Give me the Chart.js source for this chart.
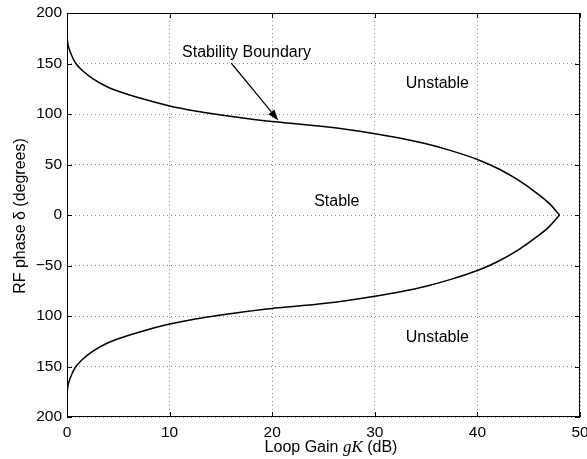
<!DOCTYPE html>
<html>
<head>
<meta charset="utf-8">
<script src="https://cdn.jsdelivr.net/npm/chart.js@4/dist/chart.umd.min.js"></script>
<style>
    html, body { margin: 0; padding: 0; background: #fff; }
</style>
</head>
<body>
<canvas id="graficoEstabilidade" width="587" height="459"></canvas>
<script>
// ============================================================
// Stability boundary – RF phase vs loop gain
// ============================================================

// valores
const gainDb = [0, 0.05, 0.2, 0.5, 0.8, 1.5, 2.5, 4, 5, 7, 10, 12.5, 15, 17.5, 20, 22.5, 25, 27.5, 30, 32.5, 35, 37.5, 40, 42, 44, 46, 47, 48];
const phaseUpper = [180, 172, 165, 157, 151, 143, 135, 126.5, 122.5, 116, 108, 103, 99, 95.5, 92.5, 90.2, 87.6, 84.4, 80.5, 76, 70.5, 63.5, 55, 46, 34.5, 20, 11.5, 0];
const phaseLower = [-180, -172, -165, -157, -151, -143, -135, -126.5, -122.5, -116, -108, -103, -99, -95.5, -92.5, -90.2, -87.6, -84.4, -80.5, -76, -70.5, -63.5, -55, -46, -34.5, -20, -11.5, 0];

const xTicks = [0, 10, 20, 30, 40, 50];
const yTicks = [200, 150, 100, 50, 0, -50, -100, -150, -200];
const yTickLabels = ["200", "150", "100", "50", "0", "\u221250", "100", "150", "200"];

// textos dentro do gráfico (coordenadas de dados)
const regionLabels = [
    { text: "Unstable", x: 36.1, y: 130 },
    { text: "Stable", x: 26.3, y: 13 },
    { text: "Unstable", x: 36.1, y: -121 }
];
const boundaryNote = { text: "Stability Boundary", x: 17.5, y: 161, arrowFrom: [16.0, 150.5], arrowTo: [20.6, 93.6] };

const FONT = "'Liberation Sans', Arial, Helvetica, sans-serif";

const toPoints = (xs, ys) => xs.map((x, i) => ({ x: x, y: ys[i] }));

// moldura, ticks para dentro, títulos e anotações (estilo MATLAB)
const matlabAxes = {
    id: "matlabAxes",
    afterDraw(chart) {
        const ctx = chart.ctx;
        const area = chart.chartArea;
        const xs = chart.scales.x;
        const ys = chart.scales.y;

        ctx.save();
        ctx.strokeStyle = "#000";
        ctx.lineWidth = 1;
        ctx.strokeRect(area.left + 0.5, area.top + 0.5, area.right - area.left - 1, area.bottom - area.top - 1);

        const tl = 5;
        ctx.beginPath();
        xTicks.forEach(v => {
            const px = Math.round(xs.getPixelForValue(v)) + 0.5;
            ctx.moveTo(px, area.bottom); ctx.lineTo(px, area.bottom - tl);
            ctx.moveTo(px, area.top); ctx.lineTo(px, area.top + tl);
        });
        yTicks.forEach(v => {
            const py = Math.round(ys.getPixelForValue(v)) + 0.5;
            ctx.moveTo(area.left, py); ctx.lineTo(area.left + tl, py);
            ctx.moveTo(area.right, py); ctx.lineTo(area.right - tl, py);
        });
        ctx.stroke();

        // rótulos das regiões
        ctx.fillStyle = "#000";
        ctx.font = "16px " + FONT;
        ctx.textAlign = "center";
        ctx.textBaseline = "middle";
        regionLabels.forEach(l => {
            ctx.fillText(l.text, xs.getPixelForValue(l.x), ys.getPixelForValue(l.y));
        });
        ctx.fillText(boundaryNote.text, xs.getPixelForValue(boundaryNote.x), ys.getPixelForValue(boundaryNote.y));

        // seta
        const x0 = xs.getPixelForValue(boundaryNote.arrowFrom[0]);
        const y0 = ys.getPixelForValue(boundaryNote.arrowFrom[1]);
        const x1 = xs.getPixelForValue(boundaryNote.arrowTo[0]);
        const y1 = ys.getPixelForValue(boundaryNote.arrowTo[1]);
        const ang = Math.atan2(y1 - y0, x1 - x0);
        const hl = 11, hw = 3.8;
        ctx.lineWidth = 1.2;
        ctx.beginPath();
        ctx.moveTo(x0, y0);
        ctx.lineTo(x1 - hl * Math.cos(ang), y1 - hl * Math.sin(ang));
        ctx.stroke();
        ctx.beginPath();
        ctx.moveTo(x1, y1);
        ctx.lineTo(x1 - hl * Math.cos(ang) + hw * Math.sin(ang), y1 - hl * Math.sin(ang) - hw * Math.cos(ang));
        ctx.lineTo(x1 - hl * Math.cos(ang) - hw * Math.sin(ang), y1 - hl * Math.sin(ang) + hw * Math.cos(ang));
        ctx.closePath();
        ctx.fill();

        // título do eixo x (gK em itálico serifado)
        const parts = [
            { t: "Loop Gain ", f: "16px " + FONT },
            { t: "gK", f: "italic 17px 'Liberation Serif', 'Times New Roman', serif" },
            { t: " (dB)", f: "16px " + FONT }
        ];
        let total = 0;
        parts.forEach(p => { ctx.font = p.f; p.w = ctx.measureText(p.t).width; total += p.w; });
        let cx = 331 - total / 2;
        ctx.textAlign = "left";
        ctx.textBaseline = "alphabetic";
        parts.forEach(p => { ctx.font = p.f; ctx.fillText(p.t, cx, 452); cx += p.w; });

        // título do eixo y
        ctx.save();
        ctx.translate(21, 216);
        ctx.rotate(-Math.PI / 2);
        ctx.font = "16px " + FONT;
        ctx.textAlign = "center";
        ctx.textBaseline = "middle";
        ctx.fillText("RF phase \u03b4 (degrees)", 0, 0);
        ctx.restore();

        ctx.restore();
    }
};

const gridStyle = {
    color: "rgba(0,0,0,0.45)",
    lineWidth: 1,
    drawTicks: false
};

const ctx = document.getElementById("graficoEstabilidade").getContext("2d");

new Chart(ctx, {
    type: "scatter",
    data: {
        datasets: [
            {
                label: "Upper boundary",
                data: toPoints(gainDb, phaseUpper),
                showLine: true,
                borderColor: "#000",
                borderWidth: 1.5,
                pointRadius: 0,
                cubicInterpolationMode: "monotone"
            },
            {
                label: "Lower boundary",
                data: toPoints(gainDb, phaseLower),
                showLine: true,
                borderColor: "#000",
                borderWidth: 1.5,
                pointRadius: 0,
                cubicInterpolationMode: "monotone"
            }
        ]
    },
    plugins: [matlabAxes],
    options: {
        responsive: false,
        animation: false,
        devicePixelRatio: 1,
        layout: { padding: { top: 13, right: 0, left: 0, bottom: 0 } },
        plugins: {
            legend: { display: false },
            tooltip: { enabled: false }
        },
        scales: {
            x: {
                type: "linear",
                min: 0,
                max: 50,
                afterBuildTicks: s => { s.ticks = xTicks.map(v => ({ value: v })); },
                afterFit: s => { s.height = 42; s.paddingRight = 7; s.paddingLeft = 0; },
                grid: { ...gridStyle },
                border: { display: false, dash: [1, 3] },
                ticks: { color: "#000", font: { family: FONT, size: 15.5 }, padding: 6, maxRotation: 0 }
            },
            y: {
                type: "linear",
                min: -200,
                max: 200,
                afterBuildTicks: s => { s.ticks = yTicks.slice().reverse().map(v => ({ value: v })); },
                afterFit: s => { s.width = 67; s.paddingTop = 0; s.paddingBottom = 0; },
                grid: { ...gridStyle },
                border: { display: false, dash: [1, 3] },
                ticks: {
                    color: "#000",
                    font: { family: FONT, size: 15.5 },
                    padding: 5,
                    callback: v => yTickLabels[yTicks.indexOf(v)]
                }
            }
        }
    }
});
</script>
</body>
</html>
